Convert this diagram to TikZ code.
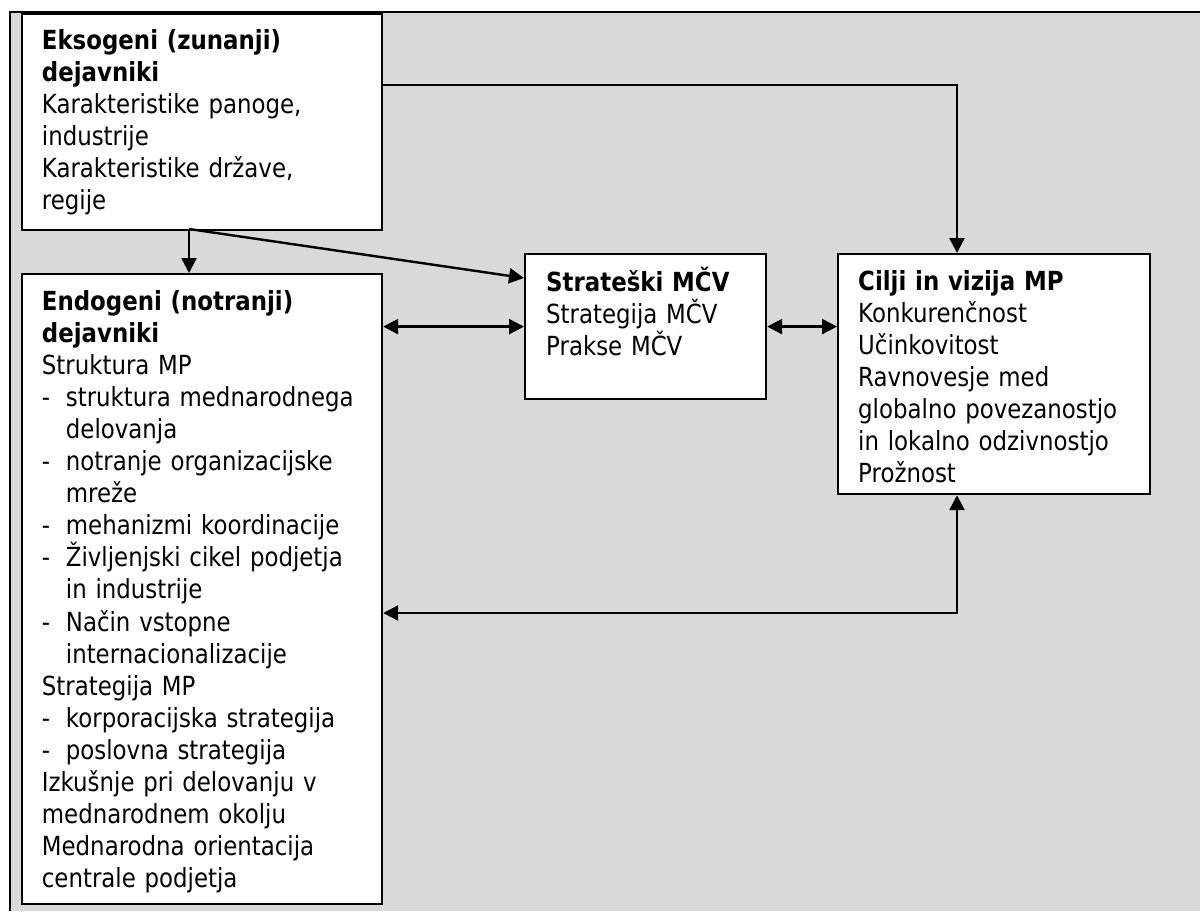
\documentclass[tikz,border=0pt]{standalone}
\usepackage{fontspec}
\setmainfont{DejaVu Sans}[FakeStretch=0.87]
\usetikzlibrary{arrows.meta,calc}
\definecolor{panelgray}{HTML}{D9D9D9}
% list lines: a dash in a fixed-width slot, and indented continuation lines
\newcommand\itemline[1]{\makebox[24pt][l]{-}#1}
\newcommand\contline[1]{\hspace*{24pt}#1}
\begin{document}
\begin{tikzpicture}[x=1pt,y=-1pt,
  box/.style={draw=black,line width=2.2pt,fill=white,anchor=north west,inner sep=0pt},
  txt/.style={anchor=base west,inner sep=0pt,align=left,
    font=\fontsize{26.3}{32.1}\selectfont},
  link/.style={line width=2.4pt,-{Triangle[length=15pt,width=15pt]}},
  both/.style={line width=2.4pt,{Triangle[length=15pt,width=15pt]}-{Triangle[length=15pt,width=15pt]}}]

\path[use as bounding box] (0,0) rectangle (1200,911);

% grey panel with its top and left rule
\fill[panelgray] (10,12) rectangle (1200,911);
\draw[line width=2pt] (10,911) -- (10,12) -- (1200,12);

% boxes
\node[box,minimum width=360pt,minimum height=216pt] (b1) at (21,13) {};
\node[box,minimum width=360pt,minimum height=630pt] (b2) at (21,273) {};
\node[box,minimum width=241pt,minimum height=145pt] (b3) at (524,253) {};
\node[box,minimum width=312pt,minimum height=240pt] (b4) at (837,253) {};

% box texts
\node[txt,text width=335pt] (t1) at (41.7,49) {%
  \textbf{Eksogeni (zunanji)}\\
  \textbf{dejavniki}\\
  Karakteristike panoge,\\
  industrije\\
  Karakteristike države,\\
  regije};

\node[txt,text width=335pt] (t2) at (41.7,310) {%
  \textbf{Endogeni (notranji)}\\
  \textbf{dejavniki}\\
  Struktura MP\\
  \itemline{struktura mednarodnega}\\
  \contline{delovanja}\\
  \itemline{notranje organizacijske}\\
  \contline{mreže}\\
  \itemline{mehanizmi koordinacije}\\
  \itemline{Življenjski cikel podjetja}\\
  \contline{in industrije}\\
  \itemline{Način vstopne}\\
  \contline{internacionalizacije}\\
  Strategija MP\\
  \itemline{korporacijska strategija}\\
  \itemline{poslovna strategija}\\
  Izkušnje pri delovanju v\\
  mednarodnem okolju\\
  Mednarodna orientacija\\
  centrale podjetja};

\node[txt,text width=220pt] (t3) at (546,291) {%
  \textbf{Strateški MČV}\\
  Strategija MČV\\
  Prakse MČV};

\node[txt,text width=290pt] (t4) at (858,290) {%
  \textbf{Cilji in vizija MP}\\
  Konkurenčnost\\
  Učinkovitost\\
  Ravnovesje med\\
  globalno povezanostjo\\
  in lokalno odzivnostjo\\
  Prožnost};

% routing points of the connectors
\coordinate (c1) at (957,85);
\coordinate (s1) at (189,229);
\coordinate (c3) at (957,613);

% connectors
\draw[link] (b1.east |- c1) -- (c1) -- (b4.north -| c1);
\draw[link] (s1) -- (b2.north -| s1);
\draw[link] (s1) -- ($(b3.north west)+(0,25)$);
\draw[both] (b2.east |- b3.west) -- (b3.west);
\draw[both] (b3.east) -- (b4.west |- b3.east);
\draw[both] (b2.east |- c3) -- (c3) -- (b4.south -| c3);
\end{tikzpicture}
\end{document}
